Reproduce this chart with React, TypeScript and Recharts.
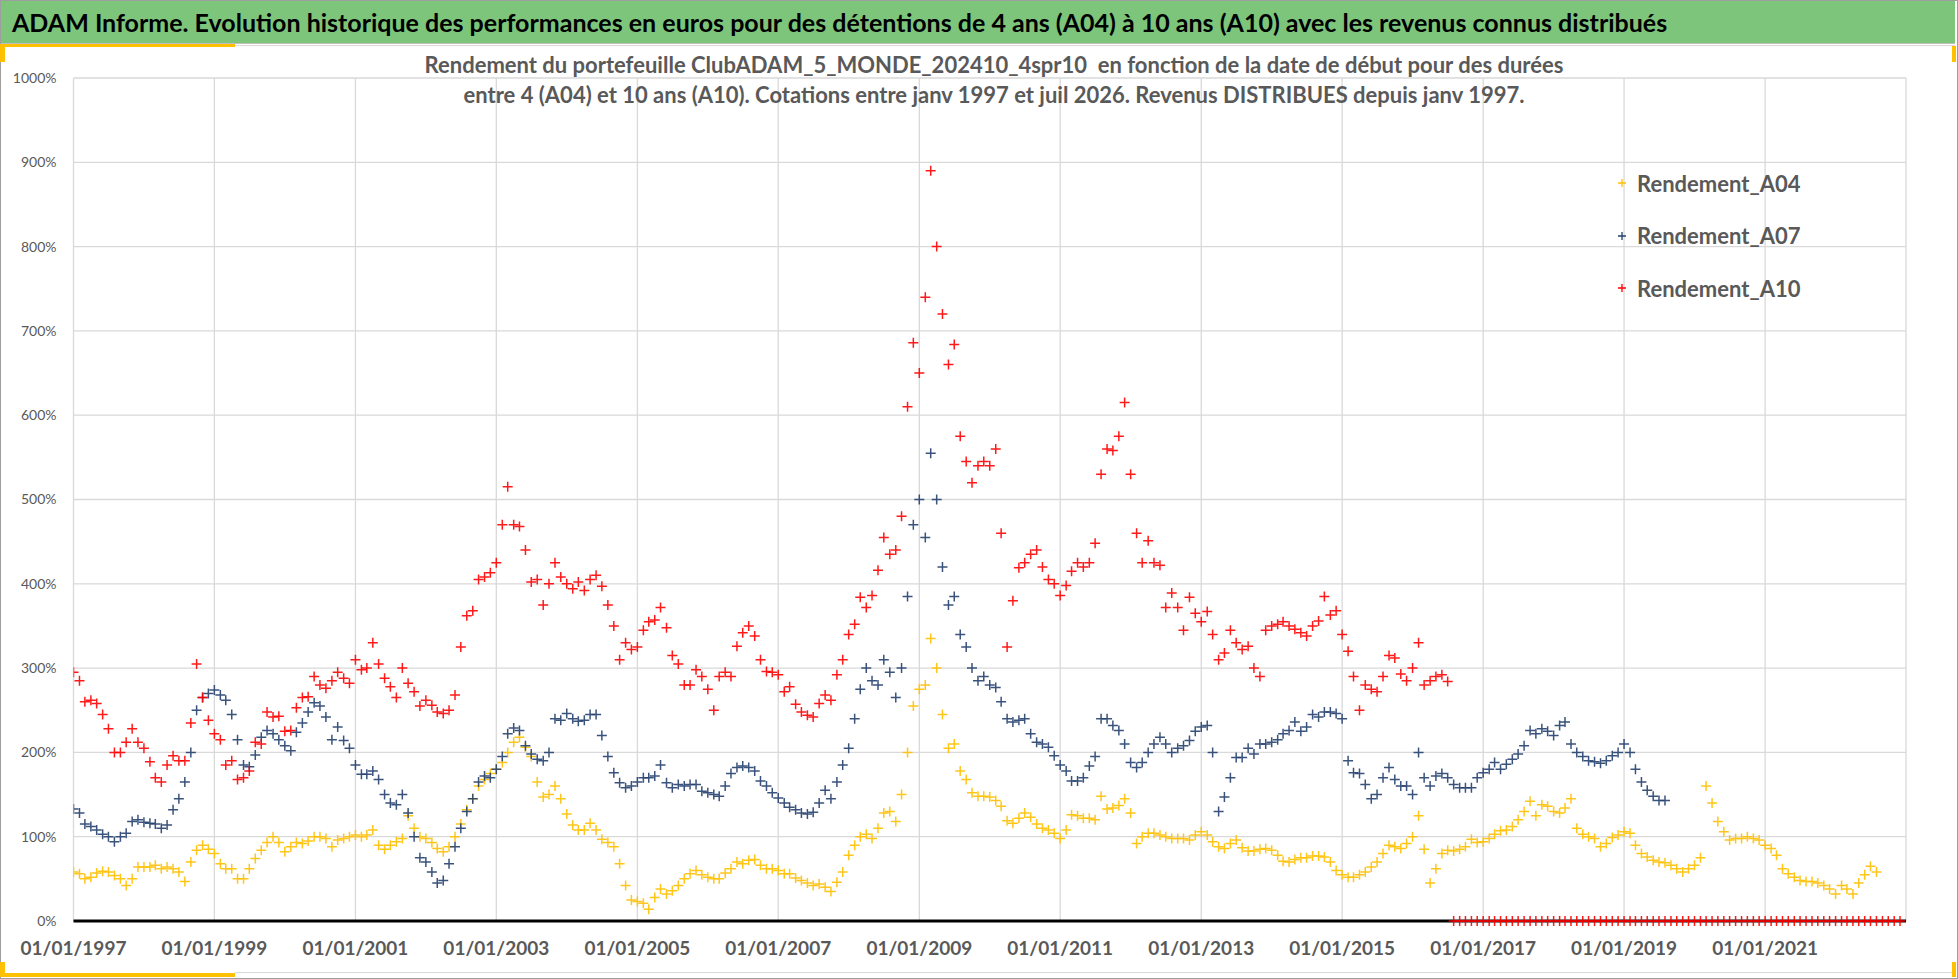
import { ScatterChart, Scatter, XAxis, YAxis, CartesianGrid } from 'recharts'

// Page at the reference size; the chart is placed so its plot area lands on
// the same pixels as the Excel export (plot: x 73.5..1906, y 78..921).
const W = 1958
const H = 979
const FONT = 'Lato, "Open Sans", sans-serif'
const GREY = '#595959'
const GOLD = '#FFC000'

// Monthly readings, first value = January 1997, one row per year.
const rendementA04 = [
  58, 56, 50, 52, 57, 59, 58, 54, 50, 42, 50, 64,
  64, 64, 66, 62, 64, 62, 58, 47, 70, 84, 90, 85,
  80, 68, 62, 62, 50, 50, 62, 74, 84, 93, 100, 93,
  82, 88, 93, 92, 95, 100, 100, 98, 88, 96, 98, 100,
  102, 100, 102, 108, 90, 85, 90, 94, 98, 125, 110, 100,
  98, 93, 86, 82, 88, 100, 115, 132, 145, 160, 168, 175,
  180, 188, 200, 212, 218, 206, 195, 165, 147, 150, 160, 145,
  127, 114, 108, 108, 116, 108, 97, 93, 88, 68, 42, 25,
  23, 21, 14, 28, 38, 32, 36, 42, 50, 56, 60, 55,
  52, 50, 50, 57, 62, 70, 68, 72, 73, 66, 62, 62,
  60, 56, 56, 51, 48, 45, 42, 44, 40, 35, 46, 58,
  78, 90, 100, 103, 98, 110, 128, 130, 118, 150, 200, 255,
  275, 280, 335, 300, 245, 205, 210, 178, 168, 152, 148, 148,
  147, 143, 136, 119, 116, 122, 128, 123, 115, 110, 108, 104,
  98, 108, 126, 125, 122, 122, 120, 148, 133, 134, 137, 145,
  128, 92, 100, 104, 104, 102, 100, 98, 98, 98, 96, 102,
  106, 102, 94, 88, 86, 92, 96, 87, 83, 83, 85, 86,
  84, 78, 71, 70, 73, 75, 75, 77, 77, 76, 70, 60,
  55, 52, 52, 55, 58, 64, 70, 80, 90, 88, 86, 92,
  100, 125, 85, 45, 62, 80, 84, 83, 85, 88, 97, 93,
  94, 98, 103, 107, 108, 112, 120, 130, 142, 125, 138, 136,
  130, 128, 134, 145, 110, 103, 100, 98, 88, 92, 99, 102,
  106, 104, 90, 80, 76, 72, 70, 69, 66, 62, 58, 62,
  66, 75, 160, 140, 118, 106, 96, 98, 98, 100, 98, 96,
  90, 86, 78, 62, 56, 52, 48, 47, 47, 45, 42, 38,
  32, 42, 38, 32, 45, 55, 65, 58,
]

const rendementA07 = [
  133, 128, 115, 112, 108, 103, 100, 94, 100, 104, 118, 120,
  117, 116, 115, 110, 114, 132, 145, 165, 200, 250, 265, 270,
  274, 268, 262, 245, 215, 185, 183, 197, 218, 226, 222, 215,
  208, 202, 224, 235, 248, 259, 255, 242, 215, 230, 214, 205,
  185, 174, 174, 178, 168, 150, 140, 138, 150, 128, 100, 75,
  70, 58, 45, 48, 68, 88, 110, 130, 145, 165, 172, 170,
  180, 195, 222, 229, 226, 208, 198, 192, 190, 200, 240, 238,
  246, 240, 237, 238, 245, 245, 220, 195, 176, 164, 158, 160,
  165, 170, 170, 172, 185, 164, 158, 162, 160, 162, 162, 154,
  152, 150, 148, 160, 175, 182, 184, 182, 178, 166, 160, 152,
  146, 140, 135, 132, 128, 127, 129, 140, 155, 145, 165, 185,
  205, 240, 275, 300, 285, 280, 310, 295, 265, 300, 385, 470,
  500, 455, 555, 500, 420, 375, 385, 340, 325, 300, 285, 290,
  280, 277, 260, 240, 236, 238, 240, 222, 212, 210, 206, 196,
  185, 178, 166, 166, 170, 184, 195, 240, 240, 232, 226, 210,
  188, 182, 188, 200, 210, 218, 210, 200, 205, 208, 214, 225,
  230, 232, 200, 130, 147, 170, 194, 194, 205, 198, 210, 210,
  212, 215, 222, 226, 236, 225, 230, 245, 242, 248, 248, 246,
  240, 190, 176, 175, 162, 145, 150, 170, 182, 168, 160, 160,
  150, 200, 170, 160, 172, 175, 170, 162, 158, 158, 158, 170,
  176, 180, 188, 180, 186, 192, 198, 208, 226, 222, 228, 225,
  220, 232, 236, 210, 200, 195, 190, 189, 187, 190, 196, 200,
  210, 200, 180, 165, 155, 148, 143, 143,
]

// A10 drops to 0 from August 2016 (no 10-year window left).
const rendementA10 = [
  295, 285, 260, 262, 258, 245, 228, 200, 200, 212, 228, 212,
  205, 189, 170, 165, 185, 196, 190, 190, 235, 305, 265, 238,
  222, 215, 185, 190, 168, 170, 178, 212, 210, 248, 242, 243,
  225, 226, 253, 265, 266, 290, 280, 276, 285, 295, 288, 282,
  310, 298, 300, 330, 305, 288, 278, 265, 300, 282, 272, 255,
  262, 256, 248, 246, 250, 268, 325, 362, 368, 405, 408, 413,
  425, 470, 515, 470, 468, 440, 402, 405, 375, 400, 425, 408,
  400, 394, 402, 392, 405, 410, 397, 375, 350, 310, 330, 322,
  325, 345, 355, 357, 372, 348, 315, 305, 280, 280, 298, 290,
  275, 250, 290, 295, 290, 326, 342, 350, 338, 310, 296, 295,
  292, 272, 278, 257, 248, 244, 242, 258, 268, 262, 292, 310,
  340, 352, 384, 372, 386, 416, 455, 435, 440, 480, 610, 686,
  650, 740, 890, 800, 720, 660, 684, 575, 545, 520, 540, 545,
  540, 560, 460, 325, 380, 419, 425, 435, 440, 420, 405, 400,
  386, 398, 415, 425, 420, 425, 448, 530, 560, 558, 575, 615,
  530, 460, 425, 451, 425, 422, 372, 389, 372, 345, 384, 365,
  355, 367, 340, 310, 318, 345, 330, 322, 326, 300, 290, 345,
  350, 352, 355, 350, 346, 342, 338, 350, 356, 385, 363, 368,
  340, 320, 290, 250, 280, 275, 272, 290, 315, 312, 293, 285,
  300, 330, 280, 285, 290, 292, 284, 0, 0, 0, 0, 0,
  0, 0, 0, 0, 0, 0, 0, 0, 0, 0, 0, 0,
  0, 0, 0, 0, 0, 0, 0, 0, 0, 0, 0, 0,
  0, 0, 0, 0, 0, 0, 0, 0, 0, 0, 0, 0,
  0, 0, 0, 0, 0, 0, 0, 0, 0, 0, 0, 0,
  0, 0, 0, 0, 0, 0, 0, 0, 0, 0, 0, 0,
  0, 0, 0, 0, 0, 0, 0, 0, 0, 0, 0, 0,
]

const yTicks = [0, 100, 200, 300, 400, 500, 600, 700, 800, 900, 1000]
const xTickYears = [1997, 1999, 2001, 2003, 2005, 2007, 2009, 2011, 2013, 2015, 2017, 2019, 2021]

const series = [
  { name: 'Rendement_A04', color: GOLD, values: rendementA04 },
  { name: 'Rendement_A07', color: '#24406F', values: rendementA07 },
  { name: 'Rendement_A10', color: '#FF0000', values: rendementA10 },
]

const monthly = (values: number[]) => values.map((y, i) => ({ x: Date.UTC(1997, i, 1), y }))

// Excel "+" marker
function plusShape(color: string, r = 5) {
  return (p: any) => (
    <path
      d={`M${p.cx - r},${p.cy}H${p.cx + r}M${p.cx},${p.cy - r}V${p.cy + r}`}
      stroke={color}
      strokeWidth={1.5}
      strokeOpacity={0.9}
      fill="none"
    />
  )
}

const xTickFmt = (t: number) => `01/01/${new Date(t).getUTCFullYear()}`

export default function App() {
  return (
    <div style={{ position: 'absolute', left: 0, top: 0, width: W, height: H, background: '#fff', overflow: 'hidden', fontFamily: FONT }}>
      <ScatterChart width={W} height={H} margin={{ top: 78, right: 52, bottom: 18, left: 13.5 }}>
        <CartesianGrid stroke="#D9D9D9" strokeWidth={1.3} />
        <XAxis
          type="number"
          dataKey="x"
          domain={[Date.UTC(1997, 0, 1), Date.UTC(2023, 0, 1)]}
          ticks={xTickYears.map(y => Date.UTC(y, 0, 1))}
          tickFormatter={xTickFmt}
          allowDataOverflow
          height={40}
          axisLine={{ stroke: '#000', strokeWidth: 3 }}
          tickLine={false}
          tickSize={0}
          tickMargin={21}
          tick={{ fill: GREY, fontSize: 19, fontWeight: 700, fontFamily: FONT }}
        />
        <YAxis
          type="number"
          dataKey="y"
          domain={[0, 1000]}
          ticks={yTicks}
          tickFormatter={(v: number) => `${v}%`}
          width={60}
          axisLine={false}
          tickLine={false}
          tickSize={0}
          tickMargin={17}
          tick={{ fill: GREY, fontSize: 14, fontFamily: FONT }}
        />
        {series.map(s => (
          <Scatter key={s.name} name={s.name} data={monthly(s.values)} shape={plusShape(s.color)} isAnimationActive={false} />
        ))}
      </ScatterChart>

      {/* frame and decorative corners */}
      <div style={{ position: 'absolute', inset: 0, border: '1px solid #9E9E9E', boxSizing: 'border-box' }} />
      <div style={{ position: 'absolute', left: 235, right: 3, top: 45, height: 1, background: '#D9D9D9' }} />
      <div style={{ position: 'absolute', left: 235, right: 3, top: 972, height: 1, background: '#D9D9D9' }} />
      <div style={{ position: 'absolute', left: 0, width: 235, top: 44, height: 3, background: GOLD }} />
      <div style={{ position: 'absolute', left: 0, width: 5, top: 44, height: 18, background: GOLD }} />
      <div style={{ position: 'absolute', left: 0, width: 235, top: 973, height: 4, background: GOLD }} />
      <div style={{ position: 'absolute', left: 0, width: 5, top: 962, height: 15, background: GOLD }} />
      <div style={{ position: 'absolute', right: 2, width: 4, top: 46, height: 16, background: GOLD }} />
      <div style={{ position: 'absolute', right: 2, width: 4, top: 962, height: 15, background: GOLD }} />

      {/* title bar */}
      <div
        style={{
          position: 'absolute', left: 1, top: 1, width: W - 4, height: 43, background: '#7DC57B',
          borderBottom: '1px solid #BFBFBF', color: '#000', fontWeight: 700, fontSize: 25,
          lineHeight: '43px', paddingLeft: 11, whiteSpace: 'nowrap', boxSizing: 'border-box',
        }}
      >
        ADAM Informe. Evolution historique des performances en euros pour des détentions de 4 ans (A04) à 10 ans (A10) avec les revenus connus distribués
      </div>

      {/* chart title */}
      <div
        style={{
          position: 'absolute', left: 294, width: 1400, top: 50, textAlign: 'center', color: GREY,
          fontWeight: 700, fontSize: 22, lineHeight: '30px', whiteSpace: 'pre',
        }}
      >
        {'Rendement du portefeuille ClubADAM_5_MONDE_202410_4spr10  en fonction de la date de début pour des durées\nentre 4 (A04) et 10 ans (A10). Cotations entre janv 1997 et juil 2026. Revenus DISTRIBUES depuis janv 1997.'}
      </div>

      {/* legend */}
      <div style={{ position: 'absolute', left: 1614, top: 157 }}>
        {series.map(s => (
          <div key={s.name} style={{ height: 52.5, display: 'flex', alignItems: 'center', color: GREY, fontWeight: 700, fontSize: 22 }}>
            <svg width={16} height={16} style={{ marginRight: 7 }}>
              <path d="M4,8H12M8,4V12" stroke={s.color} strokeWidth={1.3} />
            </svg>
            {s.name}
          </div>
        ))}
      </div>
    </div>
  )
}
